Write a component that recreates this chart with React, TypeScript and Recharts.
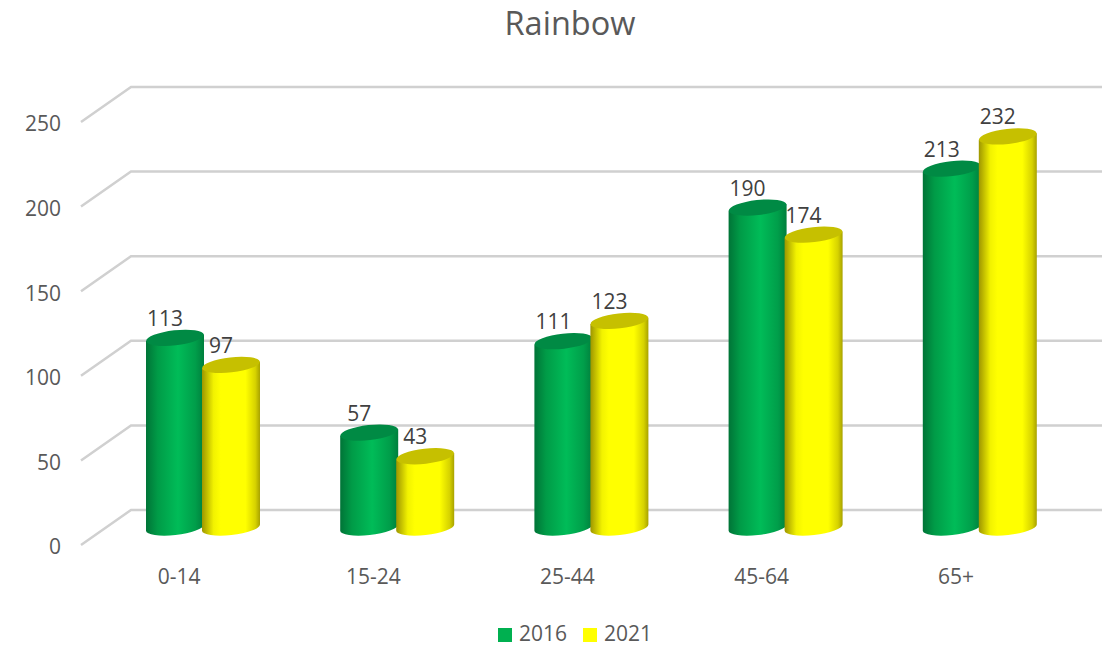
import React from "react";
import { BarChart, Bar, XAxis, YAxis, CartesianGrid, Legend, LabelList } from "recharts";

const categories = ["0-14", "15-24", "25-44", "45-64", "65+"];
const values2016 = [113, 57, 111, 190, 213];
const values2021 = [97, 43, 123, 174, 232];
const yTicks = [0, 50, 100, 150, 200, 250];

const rows = categories.map((name, i) => ({ name, a: values2016[i], b: values2021[i] }));

const DX = 24; // horizontal shift of the bars relative to the category label
const DY = -16; // vertical shift of the bars relative to the front plane
const DEPTH_X = 49;
const DEPTH_Y = -35;
const FONT = "'Open Sans', sans-serif";

function GridLine(props: any) {
  const { x1, y1, x2 } = props;
  const bx = x1 + DEPTH_X;
  const by = y1 + DEPTH_Y;
  const ex = x2 + DEPTH_X;
  return (
    <polyline
      key={props.key ?? y1}
      points={`${x1 - 1},${y1} ${bx},${by} ${ex},${by}`}
      fill="none"
      stroke="#D0D0D0"
      strokeWidth={2.5}
    />
  );
}

function cylinder(gradient: string, cap: string) {
  return function Cylinder(props: any) {
    const { x, y, width, height } = props;
    const rx = width / 2;
    const rise = 3.2;
    const left = x + DX;
    const right = left + width;
    const topY = y + DY;
    const botY = y + height + DY - 1.5;
    const ry = 7.5;
    const angle = -6.5;
    const cx = left + rx;
    const body = `M ${left} ${topY + rise} L ${left} ${botY + rise} A ${rx} ${ry} ${angle} 0 0 ${right} ${botY - rise} L ${right} ${topY - rise} Z`;
    return (
      <g>
        <path d={body} fill={`url(#${gradient})`} />
        <ellipse
          cx={cx}
          cy={topY}
          rx={rx}
          ry={ry}
          fill={cap}
          transform={`rotate(${angle} ${cx} ${topY})`}
        />
      </g>
    );
  };
}

function ValueLabel(props: any) {
  const { x, y, width, value } = props;
  return (
    <text
      x={x + DX + width / 2 - 10}
      y={y + DY - 20}
      textAnchor="middle"
      dominantBaseline="central"
      fill="#404040"
      fontSize={21}
      fontFamily={FONT}
    >
      {value}
    </text>
  );
}

const GreenCylinder = cylinder("greenBody", "#008A44");
const YellowCylinder = cylinder("yellowBody", "#C6C000");

export default function App() {
  return (
    <div style={{ position: "absolute", left: 0, top: 0, width: 1103, height: 645, background: "#fff" }}>
      <div
        style={{
          position: "absolute",
          left: 0,
          width: 1140,
          top: 0,
          textAlign: "center",
          fontFamily: FONT,
          fontSize: 32.5,
          color: "#595959",
        }}
      >
        Rainbow
      </div>
      <BarChart
        width={1103}
        height={645}
        data={rows}
        margin={{ top: 122, right: 50, bottom: 42, left: 0 }}
        barSize={58}
        barGap={-2}
      >
        <defs>
          <linearGradient id="greenBody" x1="0" y1="0" x2="1" y2="0">
            <stop offset="0" stopColor="#007437" />
            <stop offset="0.2" stopColor="#009B47" />
            <stop offset="0.55" stopColor="#00BC58" />
            <stop offset="0.85" stopColor="#009E4A" />
            <stop offset="1" stopColor="#007F3D" />
          </linearGradient>
          <linearGradient id="yellowBody" x1="0" y1="0" x2="1" y2="0">
            <stop offset="0" stopColor="#9E9600" />
            <stop offset="0.2" stopColor="#F2F200" />
            <stop offset="0.32" stopColor="#FFFF00" />
            <stop offset="0.75" stopColor="#FFFF00" />
            <stop offset="0.92" stopColor="#D6D200" />
            <stop offset="1" stopColor="#A8A200" />
          </linearGradient>
        </defs>
        <CartesianGrid vertical={false} horizontal={GridLine as any} />
        <XAxis
          dataKey="name"
          axisLine={false}
          tickLine={false}
          tickSize={0}
          tickMargin={24}
          tick={{ fill: "#595959", fontSize: 21, fontFamily: FONT }}
        />
        <YAxis
          domain={[0, 250]}
          ticks={yTicks}
          width={82}
          axisLine={false}
          tickLine={false}
          tickSize={0}
          tickMargin={21}
          dy={2}
          tick={{ fill: "#595959", fontSize: 21, fontFamily: FONT }}
        />
        <Legend
          verticalAlign="bottom"
          iconType="square"
          iconSize={14}
          wrapperStyle={{ fontFamily: FONT, fontSize: 21, left: 0, width: 1166, bottom: -2 }}
          formatter={(v: any) => <span style={{ color: "#595959", marginLeft: 3, marginRight: 6 }}>{v}</span>}
        />
        <Bar dataKey="a" name="2016" fill="#00B050" shape={GreenCylinder} isAnimationActive={false}>
          <LabelList dataKey="a" content={ValueLabel} />
        </Bar>
        <Bar dataKey="b" name="2021" fill="#FFFF00" shape={YellowCylinder} isAnimationActive={false}>
          <LabelList dataKey="b" content={ValueLabel} />
        </Bar>
      </BarChart>
    </div>
  );
}
